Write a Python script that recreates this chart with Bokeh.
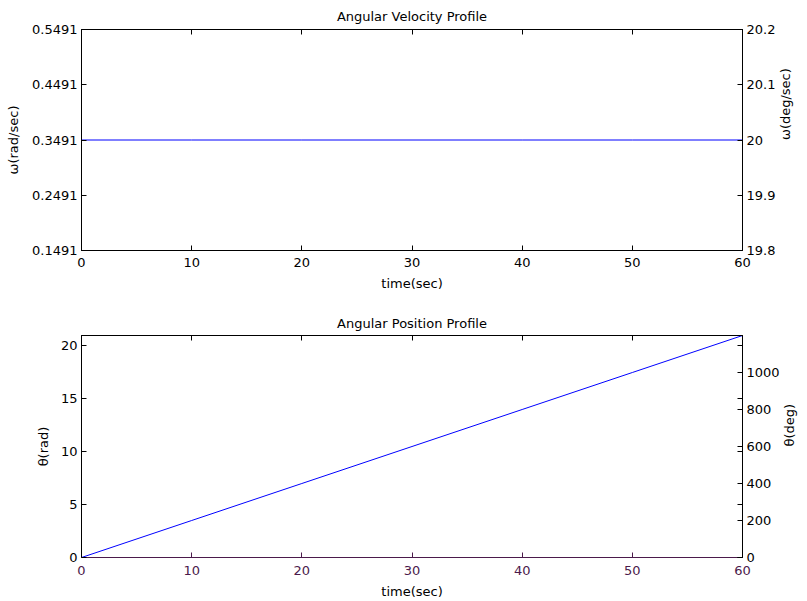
import math
from bokeh.plotting import figure
from bokeh.models import Range1d, LinearAxis, FixedTicker, PrintfTickFormatter
from bokeh.layouts import column
from bokeh.embed import file_html
from bokeh.resources import INLINE

# ---- data ----
time_sec = [0, 10, 20, 30, 40, 50, 60]
omega_rad_per_sec = [0.3491, 0.3491, 0.3491, 0.3491, 0.3491, 0.3491, 0.3491]
theta_rad = [0.0, 3.491, 6.982, 10.473, 13.964, 17.455, 20.946]

time_ticks = [0, 10, 20, 30, 40, 50, 60]
omega_rad_ticks = [0.1491, 0.2491, 0.3491, 0.4491, 0.5491]
omega_deg_ticks = [19.8, 19.9, 20.0, 20.1, 20.2]
theta_rad_ticks = [0, 5, 10, 15, 20]
theta_deg_ticks = [0, 200, 400, 600, 800, 1000]

RAD2DEG = 180.0 / math.pi
FONT = "DejaVu Sans"
FS = "13px"
PURPLE = "#4b1a4b"
BLUE = "#0000ff"


def style_axis(ax, color="black", label_color="black"):
    ax.axis_line_color = color
    ax.axis_line_width = 1
    ax.major_tick_line_color = color
    ax.minor_tick_line_color = color
    ax.major_tick_in = 5
    ax.major_tick_out = 0
    ax.minor_tick_in = 5
    ax.minor_tick_out = 0
    ax.major_label_text_font = FONT
    ax.major_label_text_font_size = FS
    ax.major_label_text_color = label_color
    ax.axis_label_text_font = FONT
    ax.axis_label_text_font_size = FS
    ax.axis_label_text_font_style = "normal"
    ax.axis_label_text_color = "black"
    ax.formatter = PrintfTickFormatter(format="%g")


def set_up_reading(ax):
    try:
        ax.axis_label_orientation = math.pi / 2
    except Exception:
        pass


def make_fig(height, top, bottom, title, y_range, title_standoff):
    p = figure(width=807, height=height, x_range=Range1d(0, 60), y_range=y_range,
               output_backend="svg", toolbar_location=None,
               min_border_left=81, min_border_right=59,
               min_border_top=top, min_border_bottom=bottom, title=title)
    p.grid.visible = False
    p.outline_line_color = "black"
    p.outline_line_width = 1
    p.background_fill_color = "white"
    p.border_fill_color = "white"
    p.title.text_font = FONT
    p.title.text_font_size = FS
    p.title.text_font_style = "normal"
    p.title.align = "center"
    p.title.text_color = "black"
    p.title.standoff = title_standoff
    return p


# ---- top: angular velocity ----
p1 = make_fig(300, 29, 50, "Angular Velocity Profile",
              Range1d(omega_rad_ticks[0], omega_rad_ticks[-1]), 12)
p1.extra_y_ranges = {"deg": Range1d(omega_deg_ticks[0], omega_deg_ticks[-1])}
p1.line(time_sec, omega_rad_per_sec, line_color=BLUE, line_width=1)

ax = p1.xaxis[0]
ax.ticker = FixedTicker(ticks=time_ticks)
ax.axis_label = "time(sec)"
style_axis(ax)
ax.major_label_standoff = 7
ax.axis_label_standoff = 6

ay = p1.yaxis[0]
ay.ticker = FixedTicker(ticks=omega_rad_ticks)
ay.axis_label = "ω(rad/sec)"
style_axis(ay)
ay.major_label_standoff = 4
ay.axis_label_standoff = 8

r1 = LinearAxis(y_range_name="deg", ticker=FixedTicker(ticks=omega_deg_ticks),
                axis_label="ω(deg/sec)")
style_axis(r1)
r1.major_label_standoff = 4
r1.axis_label_standoff = 7
set_up_reading(r1)
p1.add_layout(r1, "right")

t1 = LinearAxis(ticker=FixedTicker(ticks=[], minor_ticks=time_ticks))
style_axis(t1)
t1.major_label_text_font_size = "0px"
t1.major_label_standoff = 0
p1.add_layout(t1, "above")

# ---- bottom: angular position ----
p2 = make_fig(301, 35, 44, "Angular Position Profile",
              Range1d(0, theta_rad[-1]), 10)
p2.extra_y_ranges = {"deg": Range1d(0, theta_rad[-1] * RAD2DEG)}
p2.line(time_sec, theta_rad, line_color=BLUE, line_width=1)

bx = p2.xaxis[0]
bx.ticker = FixedTicker(ticks=time_ticks)
bx.axis_label = "time(sec)"
style_axis(bx, color=PURPLE, label_color=PURPLE)
bx.major_label_standoff = 8
bx.axis_label_standoff = 6

by = p2.yaxis[0]
by.ticker = FixedTicker(ticks=theta_rad_ticks)
by.axis_label = "θ(rad)"
style_axis(by)
by.major_label_standoff = 4
by.axis_label_standoff = 7

r2 = LinearAxis(y_range_name="deg",
                ticker=FixedTicker(ticks=theta_deg_ticks,
                                   minor_ticks=[t * RAD2DEG for t in theta_rad_ticks]),
                axis_label="θ(deg)")
style_axis(r2)
r2.major_label_standoff = 4
r2.axis_label_standoff = 7
set_up_reading(r2)
p2.add_layout(r2, "right")

t2 = LinearAxis(ticker=FixedTicker(ticks=[], minor_ticks=time_ticks))
style_axis(t2)
t2.major_label_text_font_size = "0px"
t2.major_label_standoff = 0
p2.add_layout(t2, "above")

layout = column(p1, p2)
open("out.html", "w").write(file_html(layout, INLINE))
